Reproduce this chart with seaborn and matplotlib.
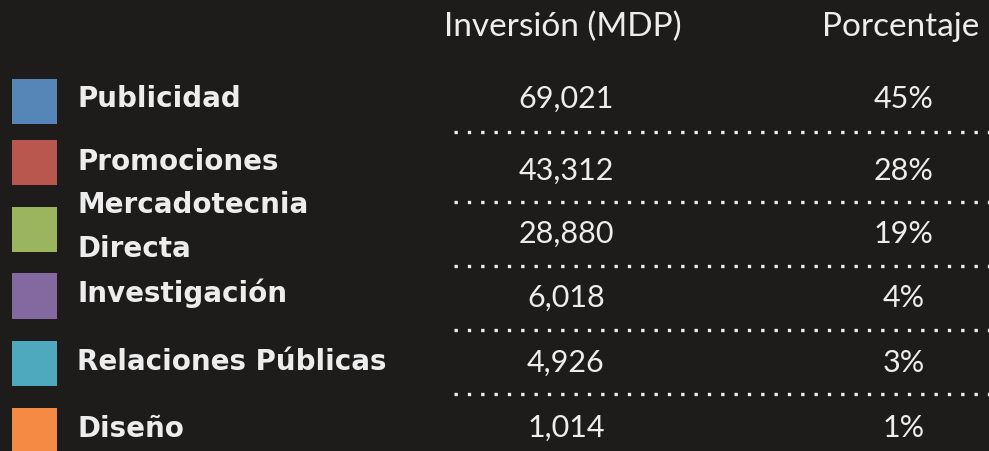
import pandas as pd
import matplotlib.pyplot as plt
import seaborn as sns

# data
categories = ["Publicidad", "Promociones", "Mercadotecnia\nDirecta", "Investigación",
              "Relaciones Públicas", "Diseño"]
inversion = [69021, 43312, 28880, 6018, 4926, 1014]
porcentaje = [45, 28, 19, 4, 3, 1]
colors = ["#5686B7", "#B9574F", "#9BB55F", "#8468A0", "#4FA9BE", "#F38B45"]
headers = ["Inversión (MDP)", "Porcentaje"]

# layout (pixel units, y downward)
square_y = [101.5, 162.5, 229.5, 296, 363.5, 430.5]
label_base = [107, 170, 213, 302, 370, 437]
value_base = [108, 180, 243, 307, 372, 437]
sep_y = [132, 202, 266, 330, 394]
col_x = [566, 904]

bg = "#1e1c1b"
fg = "#ededed"

sns.set_theme(style="white")
plt.rcParams["font.family"] = ["Lato", "DejaVu Sans"]

fig = plt.figure(figsize=(9.89, 4.51), dpi=100, facecolor=bg)
ax = fig.add_axes([0, 0, 1, 1])
ax.set_facecolor(bg)
ax.set_xlim(0, 989)
ax.set_ylim(451, 0)
ax.axis("off")

df = pd.DataFrame({"cat": categories, "y": square_y, "x": 34.5})
sns.scatterplot(data=df, x="x", y="y", hue="cat", palette=colors, marker="s",
                s=1050, linewidth=0, legend=False, ax=ax)

for cat, y in zip(categories, label_base):
    for i, line in enumerate(cat.split("\n")):
        ax.text(77, y + i * 44, line, color=fg, fontsize=20, fontweight="bold",
                family="DejaVu Sans", va="baseline", ha="left")

for h, x in zip(headers, col_x):
    ax.text(x - 3, 36, h, color=fg, fontsize=24, ha="center", va="baseline")

for v, p, y in zip(inversion, porcentaje, value_base):
    ax.text(col_x[0], y, f"{v:,}", color=fg, fontsize=22, ha="center", va="baseline")
    ax.text(col_x[1], y, f"{p}%", color=fg, fontsize=22, ha="center", va="baseline")

ax.hlines(sep_y, 453.5, 989, colors=fg, linewidth=2.4, linestyles=(0, (1, 3)))

fig.savefig("out.png", dpi=100, facecolor=bg)
